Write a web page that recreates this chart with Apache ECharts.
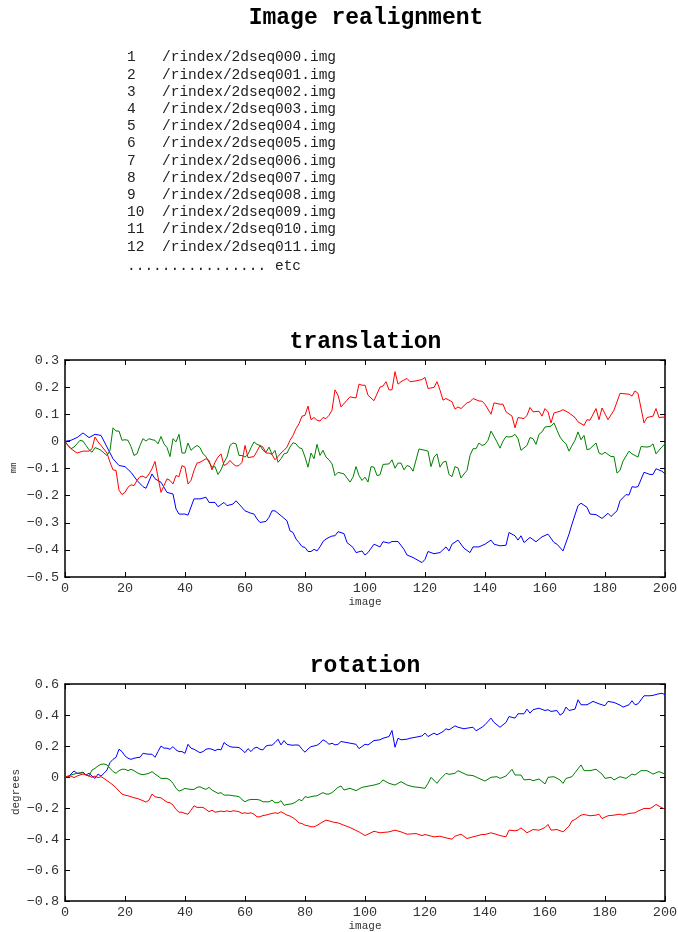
<!DOCTYPE html>
<html><head><meta charset="utf-8">
<script src="https://cdn.jsdelivr.net/npm/echarts@6/dist/echarts.min.js"></script>
<style>html,body{margin:0;padding:0;background:#fff}#c{width:678px;height:932px}</style>
</head><body><div id="c"></div>
<script>
const mainTitle = 'Image realignment';
const fileNumbers = ['1','2','3','4','5','6','7','8','9','10','11','12'];
const fileNames = ['/rindex/2dseq000.img','/rindex/2dseq001.img','/rindex/2dseq002.img','/rindex/2dseq003.img','/rindex/2dseq004.img','/rindex/2dseq005.img','/rindex/2dseq006.img','/rindex/2dseq007.img','/rindex/2dseq008.img','/rindex/2dseq009.img','/rindex/2dseq010.img','/rindex/2dseq011.img'];
const fileEtc = '................ etc';
const chartTitles = ['translation', 'rotation'];
const yNames = ['mm', 'degrees'];
const xName = 'image';

// translation (mm): [image, value]
const transBlue = [[0,0],[2,0.004],[4,0.014],[6,0.031],[8,0.014],[10,0.026],[12,0.022],[14,-0.021],[16,-0.064],[18,-0.089],[20,-0.093],[22,-0.114],[24,-0.144],[26,-0.167],[27,-0.173],[29,-0.12],[30,-0.138],[32,-0.151],[34,-0.188],[36,-0.194],[37,-0.249],[38,-0.268],[40,-0.268],[41,-0.272],[43,-0.212],[45,-0.212],[47,-0.206],[48,-0.225],[50,-0.225],[51,-0.241],[53,-0.225],[54,-0.237],[56,-0.231],[57,-0.219],[58,-0.231],[60,-0.256],[62,-0.265],[63,-0.268],[64,-0.286],[65,-0.299],[67,-0.295],[68,-0.28],[69,-0.256],[70,-0.256],[71,-0.265],[72,-0.274],[74,-0.293],[75,-0.33],[76,-0.336],[77,-0.36],[78,-0.373],[79,-0.388],[80,-0.391],[81,-0.406],[82,-0.406],[83,-0.398],[84,-0.404],[85,-0.389],[86,-0.369],[87,-0.36],[88,-0.354],[89,-0.349],[90,-0.348],[91,-0.333],[93,-0.34],[94,-0.373],[96,-0.391],[97,-0.41],[99,-0.404],[100,-0.419],[101,-0.41],[103,-0.379],[105,-0.389],[106,-0.37],[108,-0.375],[109,-0.369],[111,-0.369],[113,-0.398],[114,-0.419],[116,-0.428],[119,-0.447],[120,-0.435],[121,-0.406],[123,-0.414],[125,-0.41],[127,-0.389],[128,-0.404],[129,-0.379],[131,-0.364],[133,-0.394],[135,-0.41],[136,-0.389],[138,-0.389],[140,-0.379],[142,-0.364],[143,-0.379],[145,-0.385],[147,-0.383],[148,-0.336],[150,-0.348],[151,-0.364],[152,-0.348],[153,-0.373],[155,-0.354],[157,-0.37],[159,-0.352],[161,-0.342],[163,-0.373],[164,-0.379],[166,-0.404],[168,-0.342],[169,-0.305],[171,-0.237],[172,-0.228],[174,-0.243],[175,-0.268],[177,-0.27],[179,-0.284],[181,-0.265],[182,-0.277],[184,-0.256],[185,-0.219],[187,-0.196],[188,-0.198],[189,-0.167],[190,-0.169],[191,-0.167],[193,-0.114],[195,-0.122],[196,-0.122],[197,-0.101],[199,-0.11],[200,-0.12]];
const transGreen = [[0,0],[1,-0.015],[2,-0.027],[3,-0.021],[4,-0.009],[5,0.004],[6,0.001],[7,-0.015],[8,-0.031],[9,-0.04],[10,-0.023],[11,-0.027],[12,-0.033],[13,-0.043],[14,-0.052],[15,-0.033],[16,0.05],[17,0.038],[18,0.038],[19,0.004],[20,0.006],[21,0.004],[22,-0.019],[23,-0.052],[24,-0.046],[25,-0.015],[26,0.01],[27,0.001],[28,0.01],[29,0.006],[30,0.004],[31,-0.009],[32,0.018],[33,-0.009],[34,-0.023],[35,-0.056],[36,0.01],[37,-0.002],[38,0.026],[39,-0.043],[40,-0.043],[41,-0.006],[42,-0.033],[43,-0.023],[44,-0.015],[45,-0.023],[46,-0.046],[47,-0.056],[48,-0.077],[49,-0.095],[50,-0.093],[51,-0.122],[52,-0.105],[53,-0.077],[54,-0.058],[55,-0.015],[56,-0.006],[57,-0.009],[58,-0.052],[59,-0.052],[60,-0.058],[61,-0.048],[62,-0.023],[63,-0.002],[64,-0.011],[65,-0.015],[66,-0.033],[67,-0.04],[68,-0.021],[69,-0.048],[70,-0.033],[71,-0.077],[72,-0.064],[73,-0.046],[74,-0.043],[75,-0.021],[76,-0.005],[77,-0.009],[78,-0.023],[79,-0.027],[80,-0.058],[81,-0.095],[82,-0.043],[83,-0.064],[84,-0.011],[85,-0.052],[86,-0.033],[87,-0.058],[88,-0.068],[89,-0.083],[90,-0.126],[91,-0.114],[93,-0.12],[95,-0.15],[96,-0.132],[97,-0.093],[98,-0.126],[99,-0.144],[100,-0.132],[101,-0.15],[102,-0.093],[103,-0.095],[104,-0.126],[105,-0.123],[106,-0.085],[108,-0.083],[109,-0.068],[110,-0.099],[111,-0.08],[112,-0.08],[113,-0.105],[114,-0.089],[115,-0.093],[116,-0.11],[118,-0.028],[120,-0.033],[121,-0.036],[122,-0.093],[123,-0.058],[124,-0.046],[125,-0.095],[126,-0.077],[127,-0.073],[128,-0.122],[129,-0.13],[130,-0.093],[131,-0.098],[132,-0.135],[133,-0.12],[134,-0.107],[135,-0.052],[136,-0.027],[137,-0.027],[138,-0.006],[139,-0.015],[140,-0.011],[141,0.004],[142,0.038],[143,0.018],[144,-0.002],[145,-0.025],[146,0.001],[147,0.018],[148,0.016],[149,0.018],[150,0.026],[151,0.01],[152,-0.033],[154,-0.015],[155,0.014],[156,0.01],[157,-0.011],[158,0.026],[159,0.035],[160,0.053],[162,0.056],[163,0.068],[164,0.041],[165,0.016],[166,0.001],[167,-0.009],[168,-0.036],[169,-0.015],[170,0.004],[171,0.035],[172,0.006],[173,0.022],[174,-0.031],[175,-0.027],[177,-0.006],[178,-0.043],[179,-0.048],[180,-0.04],[182,-0.056],[183,-0.056],[184,-0.117],[185,-0.107],[186,-0.073],[188,-0.036],[189,-0.046],[191,-0.058],[192,-0.019],[194,-0.021],[195,-0.019],[196,-0.009],[197,-0.046],[199,-0.02],[200,-0.009]];
const transRed = [[0,0],[1,-0.015],[2,-0.027],[4,-0.043],[6,-0.036],[8,-0.036],[9,-0.027],[10,0.016],[11,-0.002],[12,-0.015],[14,-0.043],[15,-0.077],[16,-0.105],[17,-0.107],[18,-0.18],[19,-0.196],[20,-0.188],[21,-0.169],[22,-0.16],[23,-0.163],[24,-0.144],[25,-0.13],[26,-0.128],[27,-0.135],[28,-0.12],[29,-0.101],[30,-0.074],[31,-0.132],[32,-0.188],[33,-0.163],[34,-0.138],[35,-0.144],[36,-0.157],[37,-0.126],[38,-0.13],[39,-0.089],[40,-0.095],[41,-0.157],[42,-0.144],[43,-0.107],[44,-0.08],[45,-0.077],[47,-0.064],[48,-0.07],[49,-0.105],[50,-0.077],[51,-0.058],[52,-0.046],[53,-0.089],[54,-0.083],[55,-0.07],[56,-0.083],[57,-0.091],[58,-0.089],[59,-0.077],[60,-0.015],[61,-0.06],[62,-0.058],[63,-0.056],[64,-0.036],[65,-0.015],[66,-0.021],[67,-0.043],[68,-0.043],[69,-0.048],[70,-0.068],[71,-0.056],[72,-0.043],[73,-0.033],[74,-0.021],[75,0.004],[76,0.022],[77,0.047],[78,0.065],[79,0.093],[80,0.096],[81,0.13],[82,0.08],[83,0.088],[84,0.078],[85,0.075],[86,0.088],[87,0.084],[88,0.096],[89,0.115],[90,0.19],[91,0.17],[92,0.127],[94,0.152],[95,0.164],[97,0.16],[98,0.211],[99,0.207],[100,0.207],[101,0.17],[103,0.15],[105,0.2],[106,0.204],[107,0.22],[108,0.19],[109,0.19],[110,0.257],[111,0.211],[112,0.22],[114,0.232],[115,0.22],[117,0.223],[119,0.228],[120,0.236],[121,0.195],[123,0.199],[124,0.22],[125,0.189],[126,0.152],[127,0.158],[129,0.146],[130,0.119],[131,0.127],[132,0.121],[134,0.142],[135,0.146],[136,0.158],[138,0.149],[139,0.148],[140,0.137],[142,0.1],[143,0.142],[145,0.137],[146,0.137],[147,0.109],[149,0.093],[150,0.05],[151,0.088],[153,0.084],[154,0.096],[155,0.125],[156,0.109],[158,0.111],[159,0.093],[160,0.121],[161,0.109],[162,0.068],[163,0.105],[165,0.111],[166,0.117],[168,0.105],[170,0.088],[171,0.072],[173,0.059],[174,0.08],[175,0.078],[177,0.121],[178,0.08],[179,0.123],[181,0.08],[183,0.115],[185,0.177],[188,0.174],[189,0.167],[190,0.186],[191,0.177],[193,0.068],[194,0.088],[196,0.093],[197,0.121],[198,0.088],[200,0.09]];

// rotation (degrees): [image, value]
const rotBlue = [[0,0],[1,0],[2,0.019],[3,0.039],[4,0.024],[5,0.024],[6,0.032],[7,0.013],[8,0.024],[9,0.006],[10,-0.009],[11,0.019],[12,0.006],[13,0.024],[14,0.045],[15,0.093],[16,0.114],[17,0.127],[18,0.179],[19,0.164],[20,0.136],[21,0.121],[22,0.114],[23,0.121],[24,0.125],[25,0.127],[26,0.153],[27,0.149],[28,0.147],[29,0.147],[30,0.127],[31,0.164],[32,0.2],[33,0.186],[34,0.186],[35,0.179],[36,0.196],[37,0.175],[38,0.164],[39,0.164],[40,0.153],[41,0.211],[42,0.186],[43,0.179],[44,0.168],[45,0.157],[46,0.164],[47,0.179],[48,0.183],[49,0.179],[50,0.17],[51,0.179],[52,0.175],[53,0.222],[54,0.207],[55,0.196],[56,0.192],[57,0.192],[58,0.19],[59,0.175],[60,0.157],[61,0.183],[62,0.164],[63,0.186],[64,0.192],[65,0.179],[66,0.175],[67,0.2],[68,0.205],[69,0.205],[70,0.222],[71,0.244],[72,0.207],[73,0.235],[74,0.211],[75,0.207],[76,0.205],[77,0.207],[78,0.205],[79,0.179],[80,0.16],[81,0.181],[82,0.196],[83,0.2],[84,0.205],[85,0.218],[86,0.24],[87,0.229],[88,0.211],[89,0.218],[90,0.207],[91,0.211],[92,0.229],[94,0.222],[97,0.211],[98,0.183],[100,0.211],[101,0.207],[103,0.235],[105,0.24],[106,0.25],[108,0.261],[109,0.3],[110,0.192],[111,0.25],[112,0.24],[114,0.244],[115,0.25],[117,0.257],[119,0.265],[120,0.283],[121,0.261],[123,0.283],[124,0.272],[126,0.293],[127,0.311],[128,0.304],[130,0.33],[131,0.321],[133,0.311],[134,0.315],[136,0.321],[137,0.298],[139,0.321],[140,0.337],[142,0.38],[143,0.352],[145,0.321],[147,0.352],[148,0.39],[150,0.38],[151,0.408],[153,0.408],[154,0.438],[155,0.412],[156,0.434],[158,0.444],[160,0.429],[161,0.434],[162,0.423],[164,0.429],[165,0.399],[166,0.412],[167,0.451],[168,0.429],[170,0.438],[171,0.498],[172,0.466],[174,0.466],[176,0.488],[178,0.472],[180,0.46],[181,0.488],[183,0.481],[185,0.464],[186,0.451],[188,0.466],[189,0.492],[190,0.466],[191,0.472],[193,0.524],[195,0.524],[196,0.527],[198,0.537],[199,0.54],[200,0.531]];
const rotGreen = [[0,0],[2,0.013],[4,0.024],[6,0.028],[7,0.013],[8,0.006],[9,0.045],[10,0.056],[11,0.071],[12,0.082],[13,0.084],[14,0.078],[15,0.056],[16,0.035],[17,0.024],[18,0.041],[19,0.05],[20,0.05],[21,0.041],[22,0.05],[23,0.041],[24,0.028],[25,0.019],[26,0.015],[27,0.019],[28,0.024],[29,0.035],[30,0.019],[31,0.006],[32,-0.009],[33,-0.009],[34,-0.009],[35,-0.019],[36,-0.041],[37,-0.073],[38,-0.091],[39,-0.084],[40,-0.073],[41,-0.078],[42,-0.08],[43,-0.08],[44,-0.067],[45,-0.063],[46,-0.073],[47,-0.08],[48,-0.067],[49,-0.084],[50,-0.095],[51,-0.106],[52,-0.101],[53,-0.117],[54,-0.117],[55,-0.117],[56,-0.121],[57,-0.123],[58,-0.127],[59,-0.145],[60,-0.16],[61,-0.149],[62,-0.145],[63,-0.145],[64,-0.145],[65,-0.149],[66,-0.16],[67,-0.16],[68,-0.16],[69,-0.149],[70,-0.166],[71,-0.166],[72,-0.153],[73,-0.183],[74,-0.177],[75,-0.175],[76,-0.171],[77,-0.16],[78,-0.145],[79,-0.153],[80,-0.127],[81,-0.132],[82,-0.127],[83,-0.123],[84,-0.121],[85,-0.11],[86,-0.101],[87,-0.11],[88,-0.11],[89,-0.101],[90,-0.084],[91,-0.067],[92,-0.058],[93,-0.084],[95,-0.073],[97,-0.088],[99,-0.067],[100,-0.063],[103,-0.052],[105,-0.041],[106,-0.019],[108,-0.041],[110,-0.052],[112,-0.03],[114,-0.052],[116,-0.063],[118,-0.067],[120,-0.073],[121,-0.041],[122,-0.002],[124,-0.041],[125,-0.015],[127,0.024],[128,0.017],[130,0.024],[131,0.041],[134,0.013],[136,0.009],[138,-0.009],[140,-0.026],[142,-0.002],[144,0.002],[145,-0.009],[147,0.006],[149,0.05],[150,0.013],[152,0.013],[153,-0.019],[155,-0.015],[156,-0.024],[158,-0.013],[160,-0.045],[161,-0.002],[163,0.002],[165,-0.019],[166,-0.041],[167,-0.009],[169,0.002],[170,0.028],[172,0.078],[173,0.041],[175,0.041],[177,0.05],[179,0.019],[180,-0.009],[182,-0.002],[183,-0.019],[185,0.002],[187,-0.009],[189,0.019],[190,0.013],[192,0.041],[194,0.041],[196,0.019],[198,0.035],[200,0.019]];
const rotRed = [[0,0],[2,0.006],[3,-0.004],[4,0.006],[5,0.013],[6,0.019],[7,0.013],[8,0.006],[9,-0.002],[10,0.006],[11,-0.004],[12,0.002],[13,-0.009],[14,-0.024],[15,-0.037],[16,-0.052],[17,-0.069],[18,-0.091],[19,-0.11],[20,-0.117],[21,-0.121],[22,-0.127],[23,-0.134],[24,-0.138],[25,-0.145],[26,-0.153],[27,-0.162],[28,-0.149],[29,-0.11],[30,-0.127],[31,-0.132],[32,-0.134],[33,-0.149],[34,-0.162],[35,-0.166],[36,-0.181],[37,-0.209],[38,-0.227],[39,-0.227],[40,-0.235],[41,-0.24],[42,-0.214],[43,-0.186],[44,-0.196],[45,-0.196],[46,-0.196],[47,-0.209],[48,-0.224],[49,-0.214],[50,-0.227],[51,-0.224],[52,-0.22],[53,-0.224],[54,-0.218],[55,-0.224],[56,-0.218],[57,-0.22],[58,-0.224],[59,-0.235],[60,-0.231],[61,-0.235],[62,-0.231],[63,-0.24],[64,-0.257],[65,-0.257],[66,-0.248],[67,-0.246],[68,-0.24],[69,-0.235],[70,-0.231],[71,-0.235],[72,-0.224],[73,-0.235],[74,-0.246],[75,-0.252],[76,-0.263],[77,-0.278],[78,-0.296],[79,-0.3],[80,-0.311],[81,-0.315],[82,-0.321],[83,-0.321],[84,-0.313],[85,-0.3],[86,-0.289],[87,-0.278],[88,-0.283],[89,-0.289],[90,-0.293],[91,-0.296],[93,-0.311],[95,-0.326],[98,-0.354],[100,-0.378],[101,-0.369],[103,-0.35],[105,-0.36],[108,-0.354],[110,-0.343],[112,-0.354],[114,-0.369],[117,-0.365],[119,-0.378],[120,-0.371],[123,-0.386],[125,-0.382],[127,-0.393],[129,-0.401],[130,-0.382],[132,-0.369],[134,-0.397],[136,-0.386],[139,-0.371],[140,-0.371],[142,-0.36],[144,-0.371],[145,-0.378],[147,-0.386],[148,-0.343],[150,-0.347],[151,-0.343],[152,-0.328],[154,-0.36],[156,-0.339],[158,-0.343],[160,-0.326],[161,-0.306],[162,-0.343],[164,-0.339],[166,-0.354],[168,-0.317],[169,-0.283],[170,-0.274],[172,-0.246],[173,-0.242],[175,-0.25],[177,-0.246],[178,-0.24],[179,-0.268],[181,-0.25],[183,-0.246],[185,-0.24],[186,-0.246],[188,-0.235],[190,-0.231],[191,-0.22],[193,-0.203],[195,-0.203],[196,-0.192],[197,-0.177],[198,-0.188],[200,-0.209]];

const xTicks = {min: 0, max: 200, interval: 20};
const yTransTicks = {min: -0.5, max: 0.3, interval: 0.1};
const yRotTicks = {min: -0.8, max: 0.6, interval: 0.2};

const MONO = '"Liberation Mono", "DejaVu Sans Mono", monospace';
const chart = echarts.init(document.getElementById('c'), null, {renderer: 'canvas'});

function fmtY(v) {
  const r = Math.round(v * 10) / 10;
  if (Math.abs(r) < 1e-9) return '0';
  return (r < 0 ? '\u2212' : '') + Math.abs(r).toFixed(1);
}
const lineAx = {show: true, onZero: false, lineStyle: {color: '#000', width: 1.5}};
const tickAx = {show: true, inside: true, length: 5, lineStyle: {color: '#000', width: 1}};
const lblStyle = {color: '#333', fontFamily: MONO, fontSize: 13.5};

function xAxes(gi) {
  return [
    Object.assign({type: 'value', gridIndex: gi, position: 'bottom', axisLine: lineAx, axisTick: tickAx, splitLine: {show: false},
      axisLabel: Object.assign({margin: 4, formatter: v => String(v)}, lblStyle),
      name: xName, nameLocation: 'middle', nameGap: 20, nameTextStyle: {fontFamily: MONO, fontSize: 11, color: '#333'}}, xTicks),
    Object.assign({type: 'value', gridIndex: gi, position: 'top', axisLine: lineAx, axisTick: tickAx, splitLine: {show: false}, axisLabel: {show: false}}, xTicks)
  ];
}
function yAxes(gi, ticks) {
  return [
    Object.assign({type: 'value', gridIndex: gi, position: 'left', axisLine: lineAx, axisTick: tickAx, splitLine: {show: false},
      axisLabel: Object.assign({margin: 6, formatter: fmtY}, lblStyle)}, ticks),
    Object.assign({type: 'value', gridIndex: gi, position: 'right', axisLine: lineAx, axisTick: tickAx, splitLine: {show: false}, axisLabel: {show: false}}, ticks)
  ];
}
function line(data, color, xi, yi) {
  return {type: 'line', data: data, xAxisIndex: xi, yAxisIndex: yi, showSymbol: false, symbol: 'none',
    lineStyle: {color: color, width: 1}, itemStyle: {color: color}, animation: false, z: 2};
}

const graphics = [];
graphics.push({type: 'text', x: 366, y: 18, style: {text: mainTitle, font: 'bold 23px ' + MONO, fill: '#000', textAlign: 'center', textVerticalAlign: 'middle'}});
fileNumbers.forEach((n, i) => {
  const y = 57.5 + i * 17.2;
  graphics.push({type: 'text', x: 127, y: y, style: {text: n, font: '14.5px ' + MONO, fill: '#222', textAlign: 'left', textVerticalAlign: 'middle'}});
  graphics.push({type: 'text', x: 162, y: y, style: {text: fileNames[i], font: '14.5px ' + MONO, fill: '#222', textAlign: 'left', textVerticalAlign: 'middle'}});
});
graphics.push({type: 'text', x: 127, y: 266, style: {text: fileEtc, font: '14.5px ' + MONO, fill: '#222', textAlign: 'left', textVerticalAlign: 'middle'}});
graphics.push({type: 'text', x: 365.5, y: 342, style: {text: chartTitles[0], font: 'bold 23px ' + MONO, fill: '#000', textAlign: 'center', textVerticalAlign: 'middle'}});
graphics.push({type: 'text', x: 365, y: 666, style: {text: chartTitles[1], font: 'bold 23px ' + MONO, fill: '#000', textAlign: 'center', textVerticalAlign: 'middle'}});
graphics.push({type: 'text', x: 14, y: 468, rotation: Math.PI / 2, style: {text: yNames[0], font: '9px ' + MONO, fill: '#333', textAlign: 'center', textVerticalAlign: 'middle'}});
graphics.push({type: 'text', x: 16, y: 792, rotation: Math.PI / 2, style: {text: yNames[1], font: '11px ' + MONO, fill: '#333', textAlign: 'center', textVerticalAlign: 'middle'}});

chart.setOption({
  animation: false,
  backgroundColor: '#fff',
  grid: [
    {left: 65, top: 360, width: 600, height: 217, containLabel: false, outerBoundsMode: 'none'},
    {left: 65, top: 684, width: 600, height: 217, containLabel: false, outerBoundsMode: 'none'}
  ],
  xAxis: [].concat(xAxes(0), xAxes(1)),
  yAxis: [].concat(yAxes(0, yTransTicks), yAxes(1, yRotTicks)),
  series: [
    line(transBlue, '#0000ff', 0, 0),
    line(transGreen, '#008000', 0, 0),
    line(transRed, '#ff0000', 0, 0),
    line(rotBlue, '#0000ff', 2, 2),
    line(rotGreen, '#008000', 2, 2),
    line(rotRed, '#ff0000', 2, 2)
  ],
  graphic: graphics
});
</script></body></html>
